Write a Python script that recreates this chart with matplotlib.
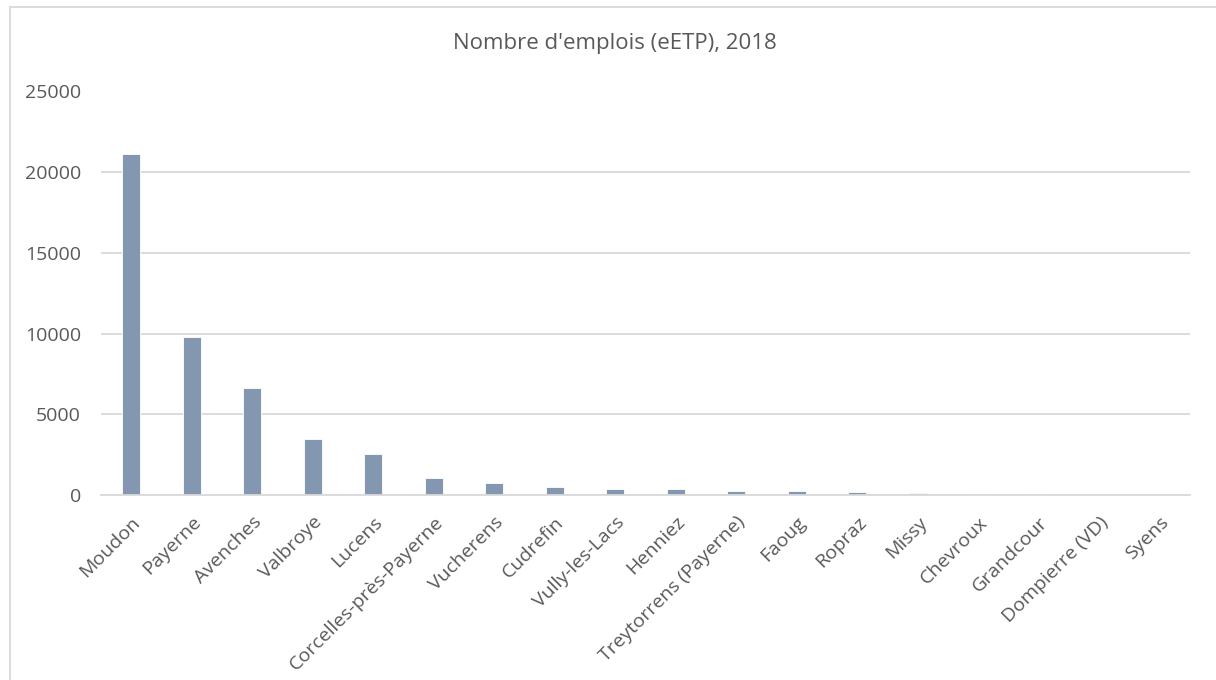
import matplotlib
matplotlib.use("Agg")
import matplotlib.pyplot as plt
from matplotlib.lines import Line2D

# Data
communes = ["Moudon", "Payerne", "Avenches", "Valbroye", "Lucens",
            "Corcelles-près-Payerne", "Vucherens", "Cudrefin", "Vully-les-Lacs",
            "Henniez", "Treytorrens (Payerne)", "Faoug", "Ropraz", "Missy",
            "Chevroux", "Grandcour", "Dompierre (VD)", "Syens"]
emplois = [21120, 9780, 6660, 3480, 2545, 1070, 725, 505, 400,
           350, 250, 235, 185, 120, 75, 50, 30, 25]
yticks = [0, 5000, 10000, 15000, 20000, 25000]
title = "Nombre d'emplois (eETP), 2018"

bar_color = "#8497B0"
grid_color = "#D9D9D9"
text_color = "#595959"

plt.rcParams['font.family'] = ['Open Sans', 'DejaVu Sans']

W, H = 1216, 680
fig = plt.figure(figsize=(W / 100, H / 100), dpi=100)

# Axes placed in pixel terms to match the reference
left, right, top, zero = 101, 1190, 91.5, 495
ax = fig.add_axes([left / W, (H - zero) / H, (right - left) / W, (zero - top) / H])

x = range(len(communes))
ax.bar(x, emplois, width=0.30, color=bar_color, edgecolor="white",
       linewidth=0.6, zorder=3)

ax.set_xlim(-0.5, len(communes) - 0.5)
ax.set_ylim(0, 25000)
ax.set_yticks(yticks)
ax.set_yticklabels([str(v) for v in yticks])
ax.yaxis.grid(True, color=grid_color, linewidth=1.3, zorder=0)
ax.set_axisbelow(True)

for side in ["top", "right", "left"]:
    ax.spines[side].set_visible(False)
ax.spines["bottom"].set_color(grid_color)
ax.spines["bottom"].set_linewidth(1.3)
ax.spines["bottom"].set_zorder(4)

ax.tick_params(axis="y", length=0, pad=14.4, labelsize=14, labelcolor=text_color)
ax.tick_params(axis="x", length=0, pad=13, labelsize=14, labelcolor=text_color)
ax.set_xticks(list(x))
ax.set_xticklabels(communes, rotation=45, ha="right", va="top",
                   rotation_mode="anchor")

fig.text(614.5 / W, 1 - 44 / H, title, ha="center", va="center",
         fontsize=16, color=text_color)

# Chart-area border (only top and left visible in the crop)
fig.add_artist(Line2D([10 / W, 10 / W], [0, 1 - 7 / H], transform=fig.transFigure,
                      color=grid_color, linewidth=1.3))
fig.add_artist(Line2D([10 / W, 1], [1 - 7 / H, 1 - 7 / H], transform=fig.transFigure,
                      color=grid_color, linewidth=1.3))

fig.savefig("out.png", dpi=100, facecolor="white")
